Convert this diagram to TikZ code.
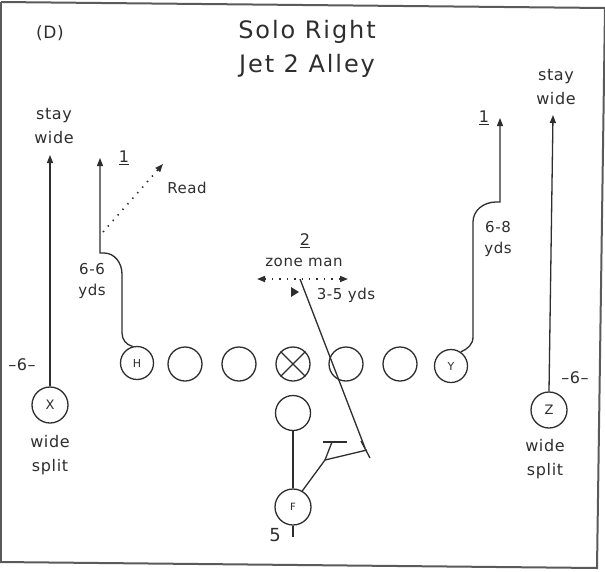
\documentclass[tikz,border=0pt]{standalone}
\usepackage{fontspec}
\setmainfont{DejaVu Sans}[LetterSpace=4]
\usetikzlibrary{arrows.meta}
\definecolor{ink}{HTML}{2E2E2E}
\definecolor{framec}{HTML}{5A5A5A}
\begin{document}
\begin{tikzpicture}[x=1pt,y=-1pt,
  every node/.style={text=ink},
  route/.style={draw=ink,line width=1.3pt},
  tip/.style={-{Triangle[length=8pt,width=6pt]}},
  dots/.style={draw=ink,line width=1.6pt,dash pattern=on 1.4pt off 6pt},
  player/.style={circle,draw=ink,line width=1.3pt,inner sep=0pt,minimum size=33pt,font=\fontsize{11}{11}\selectfont},
  lbl/.style={font=\fontsize{16}{24}\selectfont,align=center,inner sep=0pt},
  sml/.style={font=\fontsize{15}{21}\selectfont,align=center,inner sep=0pt},
  ttl/.style={font=\fontsize{24}{28}\selectfont\addfontfeature{LetterSpace=8},inner sep=0pt}
]
\useasboundingbox (0,0) rectangle (605,571);
\fill[white] (0,0) rectangle (605,571);
% frame
\draw[framec,line width=2pt] (1,2) -- (605,8) -- (597,568) -- (0,562);
\draw[framec,line width=1.5pt] (1,2) -- (1,562);
% titles
\node[ttl] (t1) at (307,32) {Solo Right};
\node[ttl] (t2) at (307,66) {Jet 2 Alley};
\node[font=\fontsize{17}{17}\selectfont,inner sep=0pt] (d) at (50,33) {(D)};
% players
\node[player] (H) at (137,363) {H};
\node[player,minimum size=34pt] (L1) at (185,364) {};
\node[player,minimum size=34pt] (L2) at (239,364) {};
\node[player,minimum size=34pt] (C) at (293,364) {};
\draw[route] (C.45) -- (C.225) (C.135) -- (C.315);
\node[player,minimum size=34pt] (L4) at (346,364) {};
\node[player,minimum size=34pt] (L5) at (400,364) {};
\node[player] (Y) at (451,366) {Y};
\node[player,minimum size=35pt] (B) at (293,413) {};
\node[player,minimum size=36pt,font=\fontsize{10}{10}\selectfont] (F) at (293,507) {F};
\node[player,minimum size=36pt,font=\fontsize{13}{13}\selectfont] (X) at (50,405) {X};
\node[player,minimum size=36pt,font=\fontsize{13}{13}\selectfont] (Z) at (549,410) {Z};
% route end points
\coordinate (Xend) at (50,155);
\coordinate (Zend) at (553,115);
\coordinate (Hend) at (100,158);
\coordinate (Yend) at (500,118);
\coordinate (R0) at (103,232);
\coordinate (R1) at (163,164);
\coordinate (ZL) at (257,279);
\coordinate (ZR) at (348,279);
\coordinate (Z0) at (300,279);
\coordinate (J) at (325,460);
\coordinate (K) at (367,450);
\coordinate (T) at (332,442);
\coordinate (T1) at (323,442);
\coordinate (T2) at (347,442);
\coordinate (K1) at (361,441);
\coordinate (K2) at (370,458);
\coordinate (Fb) at (293,537);
% routes
\draw[route,tip] (X.north) -- (Xend);
\draw[route,tip] (Z.north) -- (Zend);
\draw[route,tip] (H.105) to[out=165,in=-90] (122,333) -- (122,274) to[out=90,in=0] (104,253) -- (100,253) -- (Hend);
\draw[route,tip] (Y.55) to[out=25,in=-90] (473,337) -- (473,222) to[out=90,in=180] (496,202) -- (500,202) -- (Yend);
\draw[dots,tip] (R0) -- (R1);
\draw[dots,{Triangle[length=8pt,width=6pt]}-{Triangle[length=8pt,width=6pt]}] (ZL) -- (ZR);
\fill[ink] (291,287) -- (299,292) -- (291,297) -- cycle;
\draw[route] (B.south) -- (F.north);
\draw[route] (F.south) -- (Fb);
\draw[route] (F.60) -- (J) -- (K);
\draw[route] (J) -- (T);
\draw[route] (T1) -- (T2);
\draw[route] (K1) -- (K2);
\draw[route] (Z0) -- (365,448);
% labels
\node[lbl] (sw1) at (54,126) {stay\\wide};
\node[lbl] (sw2) at (556,87) {stay\\wide};
\node[lbl] (ws1) at (50,455) {wide\\split};
\node[lbl] (ws2) at (545,459) {wide\\split};
\node[lbl] (s1) at (22,365) {–6–};
\node[lbl] (s2) at (575,378) {–6–};
\node[lbl] (n1a) at (124,158) {\underline{1}};
\node[lbl] (n1b) at (484,118) {\underline{1}};
\node[sml] (rd) at (187,188) {Read};
\node[sml] (y1) at (92,281) {6-6\\yds};
\node[sml] (y2) at (498,239) {6-8\\yds};
\node[lbl] (n2) at (305,241) {\underline{2}};
\node[sml] (zm) at (304,262) {zone man};
\node[sml] (ty) at (346,295) {3-5 yds};
\node[font=\fontsize{18}{18}\selectfont,inner sep=0pt] (five) at (275,535) {5};
\end{tikzpicture}
\end{document}
